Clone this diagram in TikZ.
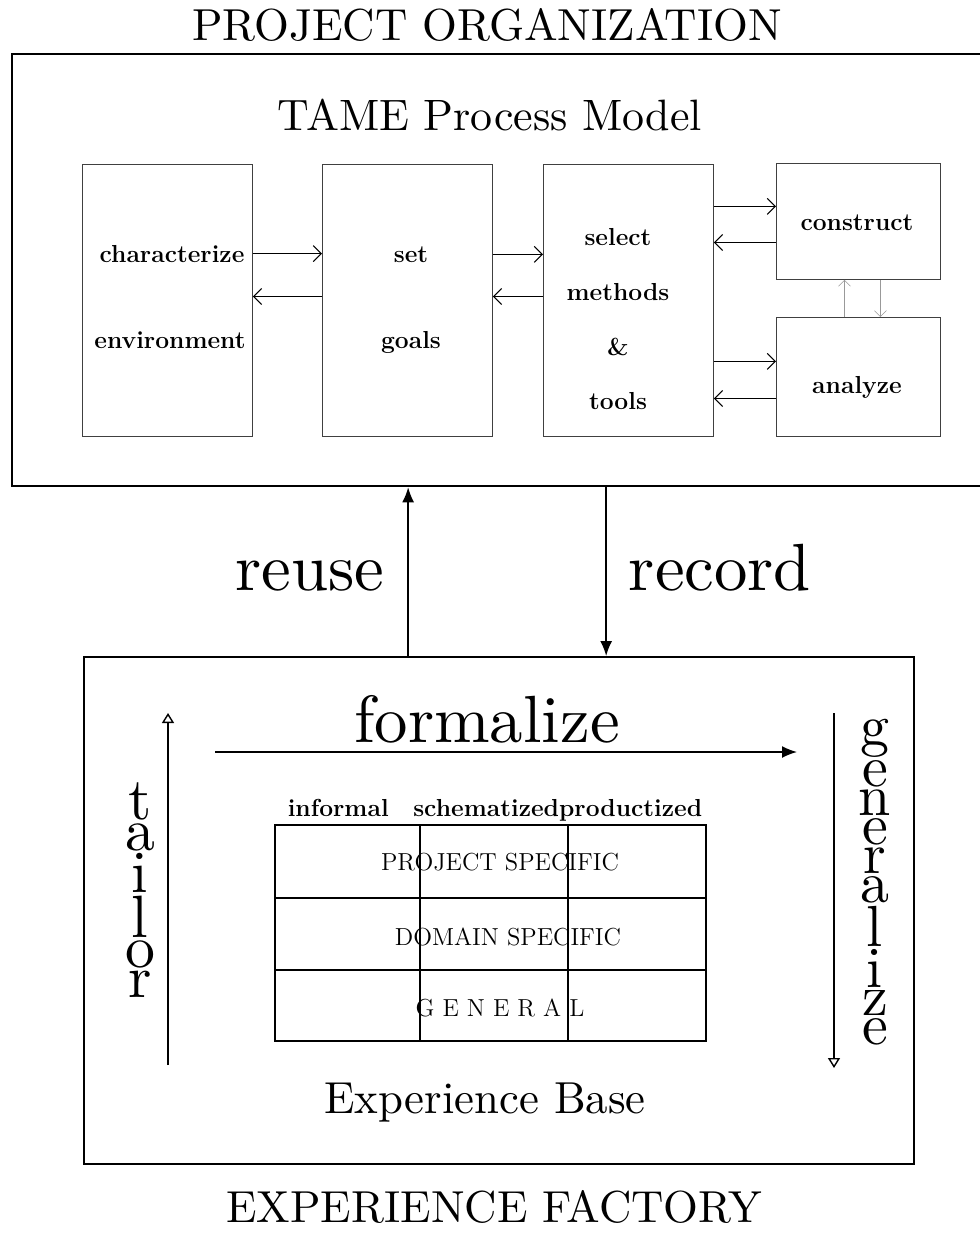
\documentclass[tikz,border=0pt]{standalone}
\usepackage{graphicx}
\usetikzlibrary{arrows.meta}

% letters set one under the other
\newcommand{\vstack}[1]{\vbox{\baselineskip=-1pt\lineskip=0.5pt
  \halign{\hfil##\hfil\cr#1\crcr}}}

\begin{document}
\begin{tikzpicture}[
  x=0.2mm, y=-0.2mm,
  stage/.style={draw=black!75, line width=0.5pt, anchor=north west,
                minimum width=34mm, minimum height=54.4mm, inner sep=0pt},
  frame/.style={draw=black, line width=1.3pt, anchor=north west, inner sep=0pt},
  word/.style={font=\bfseries\fontsize{14}{16}\selectfont, anchor=base},
  rowtext/.style={font=\fontsize{14}{16}\selectfont, anchor=base},
  big/.style={anchor=base},
  flow/.style={-{Straight Barb[length=1.6mm]}, line width=0.6pt},
  faint/.style={-{Straight Barb[length=1.2mm]}, line width=0.3pt, draw=black!40},
  bigarrow/.style={-{Latex[length=3mm, width=2.4mm]}, line width=0.9pt},
  openarrow/.style={-{Triangle[open, length=2mm, width=2.4mm]}, line width=0.8pt},
  grid/.style={line width=1.1pt}
]
\useasboundingbox (0,0) rectangle (980,1234);

% Projektna organizacija
\node[big] (orgtitle) at (487,40) {\scalebox{2.55}{PROJECT ORGANIZATION}};
\node[frame, minimum width=200mm, minimum height=86.4mm] (org) at (11,53) {};
\node[big] (tame) at (490,130) {\scalebox{2.5}{TAME Process Model}};

\node[stage] (char) at (82,164) {};
\node[stage] (set) at (322,164) {};
\node[stage] (select) at (543,164) {};
\node[stage, minimum width=32.8mm, minimum height=23.2mm] (construct) at (776,163) {};
\node[stage, minimum width=32.8mm, minimum height=23.8mm] (analyze) at (776,317) {};

\node[word] (char1) at (172,262) {characterize};
\node[word] (char2) at (170,348) {environment};
\node[word] (set1) at (411,262) {set};
\node[word] (set2) at (411,348) {goals};
\node[word] (sel1) at (618,245) {select};
\node[word] (sel2) at (618,300) {methods};
\node[word] (sel3) at (618,355) {\&};
\node[word] (sel4) at (618,409) {tools};
\node[word] (cons) at (857,230) {construct};
\node[word] (anal) at (857,393) {analyze};

\coordinate (consin) at ([yshift=3mm]construct.west);
\coordinate (consout) at ([yshift=-4.2mm]construct.west);
\coordinate (analin) at ([yshift=3.1mm]analyze.west);
\coordinate (analout) at ([yshift=-4.3mm]analyze.west);

\draw[flow] (char.east |- char1) -- (set.west |- char1);
\draw[flow] ([yshift=0.8mm]set.west) -- ([yshift=0.8mm]char.east);
\draw[flow] (set.east |- set1) -- (select.west |- set1);
\draw[flow] ([yshift=0.8mm]select.west) -- ([yshift=0.8mm]set.east);
\draw[flow] (select.east |- consin) -- (consin);
\draw[flow] (consout) -- (select.east |- consout);
\draw[flow] (select.east |- analin) -- (analin);
\draw[flow] (analout) -- (select.east |- analout);
\draw[faint] ([xshift=-2.8mm]analyze.north) -- ([xshift=-2.8mm]construct.south);
\draw[faint] ([xshift=4.4mm]construct.south) -- ([xshift=4.4mm]analyze.north);

% Tovarna izkusenj
\node[frame, minimum width=166mm, minimum height=101.4mm] (factory) at (83,656) {};
\coordinate (reusefoot) at ([xshift=-18.2mm]factory.north);
\coordinate (recordfoot) at ([xshift=21.4mm]factory.north);
\draw[bigarrow] (reusefoot) -- (reusefoot |- org.south);
\draw[bigarrow] (recordfoot |- org.south) -- (recordfoot);
\node[big] (reuse) at (310,590) {\scalebox{3.8}{reuse}};
\node[big] (record) at (720,590) {\scalebox{3.8}{record}};

\node[big] (formalize) at (487,742) {\scalebox{3.8}{formalize}};
\coordinate (f0) at (215,752);
\coordinate (f1) at (797,752);
\draw[bigarrow] (f0) -- (f1);

\coordinate (t0) at (168,1065);
\coordinate (t1) at (168,713);
\draw[openarrow] (t0) -- (t1);
\node (tailor) at (140,890)
  {\scalebox{3.4}{\vstack{t\cr a\cr i\cr l\cr o\cr r}}};

\coordinate (g0) at (834,713);
\coordinate (g1) at (834,1068);
\draw[openarrow] (g0) -- (g1);
\node (generalize) at (875,882)
  {\scalebox{3.3}{\vstack{g\cr e\cr n\cr e\cr r\cr a\cr l\cr i\cr z\cr e}}};

% Baza izkusenj
\node[word] (levels) at (495,816) {informal\quad schematizedproductized};
\draw[grid] (275,825) rectangle (706,1041);
\draw[grid] (275,898) -- (706,898);
\draw[grid] (275,970) -- (706,970);
\draw[grid] (420,825) -- (420,1041);
\draw[grid] (568,825) -- (568,1041);
\node[rowtext] (proj) at (500,870) {PROJECT SPECIFIC};
\node[rowtext] (domain) at (508,945) {DOMAIN SPECIFIC};
\node[rowtext] (general) at (500,1016) {G E N E R A L};
\node[big] (ebase) at (485,1113) {\scalebox{2.55}{Experience Base}};

\node[big] (factitle) at (494,1222) {\scalebox{2.55}{EXPERIENCE FACTORY}};

\end{tikzpicture}
\end{document}
